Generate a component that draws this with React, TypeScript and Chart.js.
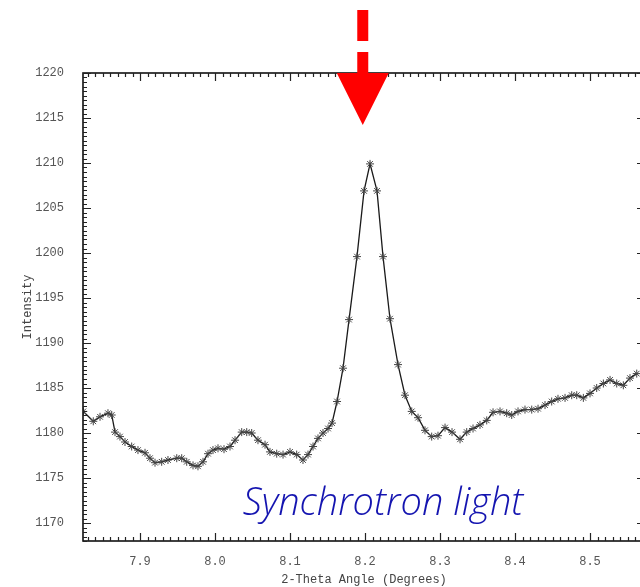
import React, { useEffect, useRef } from "react";
import { Chart, registerables } from "chart.js";

Chart.register(...registerables);

// 2-Theta angle (degrees) of each measured point
const TWO_THETA = [
  7.8244, 7.8377, 7.8467, 7.8573, 7.8623, 7.8667, 7.8733, 7.88, 7.8889, 7.8973,
  7.9067, 7.9133, 7.92, 7.9289, 7.9373, 7.949, 7.9556, 7.9623, 7.9707, 7.9773,
  7.984, 7.9907, 7.9973, 8.004, 8.012, 8.02, 8.0267, 8.0356, 8.0423, 8.0489,
  8.0573, 8.0667, 8.0733, 8.0823, 8.0907, 8.1, 8.1089, 8.1173, 8.124, 8.1307,
  8.1373, 8.144, 8.1507, 8.156, 8.1627, 8.1707, 8.1787, 8.1893, 8.1987, 8.2067,
  8.216, 8.224, 8.2333, 8.244, 8.2533, 8.2623, 8.2707, 8.28, 8.2889, 8.2973,
  8.3067, 8.316, 8.3267, 8.3356, 8.344, 8.3533, 8.3623, 8.3707, 8.38, 8.3889,
  8.3956, 8.404, 8.4133, 8.4223, 8.4307, 8.44, 8.4489, 8.4573, 8.4667, 8.4756,
  8.4823, 8.4911, 8.5, 8.5089, 8.5178, 8.5267, 8.5356, 8.5444, 8.5533, 8.5623,
];

// Measured intensity
const INTENSITY = [
  1182.4, 1181.3, 1181.8, 1182.2, 1182.0, 1180.1, 1179.6, 1179.0, 1178.5, 1178.1,
  1177.8, 1177.2, 1176.7, 1176.8, 1177.0, 1177.2, 1177.2, 1176.8, 1176.4, 1176.3,
  1176.8, 1177.7, 1178.1, 1178.3, 1178.2, 1178.5, 1179.2, 1180.1, 1180.1, 1180.0,
  1179.2, 1178.7, 1177.9, 1177.7, 1177.6, 1177.9, 1177.6, 1177.0, 1177.6, 1178.5,
  1179.4, 1180.0, 1180.5, 1181.1, 1183.5, 1187.2, 1192.6, 1199.6, 1206.9, 1209.9,
  1206.9, 1199.6, 1192.7, 1187.6, 1184.2, 1182.4, 1181.7, 1180.3, 1179.6, 1179.7,
  1180.6, 1180.1, 1179.3, 1180.1, 1180.5, 1180.9, 1181.4, 1182.3, 1182.4, 1182.2,
  1182.0, 1182.4, 1182.6, 1182.6, 1182.7, 1183.1, 1183.5, 1183.8, 1183.9, 1184.2,
  1184.2, 1183.9, 1184.4, 1185.0, 1185.5, 1185.9, 1185.5, 1185.3, 1186.1, 1186.6,
];

const X_TICKS = [7.9, 8.0, 8.1, 8.2, 8.3, 8.4, 8.5];
const Y_TICKS = [1170, 1175, 1180, 1185, 1190, 1195, 1200, 1205, 1210, 1215, 1220];

const X_MIN = 7.824;
const X_MAX = 8.5733;
const Y_MIN = 1168;
const Y_MAX = 1220;

const X_TITLE = "2-Theta Angle (Degrees)";
const Y_TITLE = "Intensity";

const PEAK_MARK = 8.197; // position of the red arrow
const NOTE_TEXT = "Synchrotron light";
const NOTE_X = 8.037;
const NOTE_Y = 1170.9;

const TICK_FONT = { family: "'Liberation Mono', 'DejaVu Sans Mono', monospace", size: 12 };

const framePlugin = {
  id: "frameAndMarks",
  afterDraw(chart: any) {
    const { ctx, chartArea: a, scales } = chart;
    const xs = scales.x;
    const ys = scales.y;
    ctx.save();
    // frame
    ctx.strokeStyle = "#111";
    ctx.lineWidth = 1.6;
    ctx.strokeRect(a.left, a.top, a.right - a.left, a.bottom - a.top);

    // inward ticks
    ctx.lineWidth = 1.2;
    ctx.strokeStyle = "#222";
    ctx.beginPath();
    for (let i = Math.ceil(X_MIN * 100); i <= Math.floor(X_MAX * 100); i++) {
      const v = i / 100;
      const major = i % 10 === 0;
      const len = major ? 8 : 4;
      const px = Math.round(xs.getPixelForValue(v)) + 0.5;
      ctx.moveTo(px, a.bottom);
      ctx.lineTo(px, a.bottom - len);
      ctx.moveTo(px, a.top);
      ctx.lineTo(px, a.top + len);
    }
    for (let i = Y_MIN * 2; i <= Y_MAX * 2; i++) {
      const v = i / 2;
      const major = i % 10 === 0;
      const len = major ? 8 : 4;
      const py = Math.round(ys.getPixelForValue(v)) + 0.5;
      ctx.moveTo(a.left, py);
      ctx.lineTo(a.left + len, py);
      ctx.moveTo(a.right, py);
      ctx.lineTo(a.right - len, py);
    }
    ctx.stroke();

    // annotation text
    ctx.fillStyle = "#1414b0";
    ctx.font = "italic 300 38px 'Open Sans', Lato, 'DejaVu Sans', sans-serif";
    ctx.textBaseline = "alphabetic";
    ctx.textAlign = "left";
    ctx.fillText(NOTE_TEXT, xs.getPixelForValue(NOTE_X), ys.getPixelForValue(NOTE_Y));

    // red arrow
    const cx = xs.getPixelForValue(PEAK_MARK);
    const t = a.top;
    ctx.fillStyle = "#ff0000";
    ctx.fillRect(cx - 5.5, t - 63, 11, 31);
    ctx.fillRect(cx - 5.5, t - 21, 11, 22);
    ctx.beginPath();
    ctx.moveTo(cx - 26, t);
    ctx.lineTo(cx + 26, t);
    ctx.lineTo(cx, t + 52);
    ctx.closePath();
    ctx.fill();
    ctx.restore();
  },
};

export default function App() {
  const ref = useRef<HTMLCanvasElement | null>(null);

  useEffect(() => {
    if (!ref.current) return;
    const points = TWO_THETA.map((x, i) => ({ x, y: INTENSITY[i] }));
    const chart = new Chart(ref.current, {
      type: "line",
      data: {
        datasets: [
          {
            data: points,
            borderColor: "#1a1a1a",
            borderWidth: 1.3,
            pointStyle: "star",
            pointRadius: 4,
            pointBorderColor: "#444",
            pointBorderWidth: 1,
            pointBackgroundColor: "#444",
            tension: 0,
          },
        ],
      },
      options: {
        responsive: false,
        animation: false,
        devicePixelRatio: 1,
        layout: { padding: { top: 73, right: 75, left: 0, bottom: 0 } },
        plugins: { legend: { display: false }, tooltip: { enabled: false } },
        scales: {
          x: {
            type: "linear",
            min: X_MIN,
            max: X_MAX,
            afterBuildTicks: (s: any) => {
              s.ticks = X_TICKS.map((v) => ({ value: v }));
            },
            afterFit: (s: any) => {
              s.height = 46;
            },
            grid: { display: false, drawTicks: false },
            border: { display: false },
            ticks: {
              padding: 14,
              color: "#555",
              font: TICK_FONT,
              maxRotation: 0,
              autoSkip: false,
              callback: (v: any) => Number(v).toFixed(1),
            },
            title: {
              display: true,
              text: X_TITLE,
              color: "#444",
              font: TICK_FONT,
              padding: { top: 0, bottom: 0 },
            },
          },
          y: {
            type: "linear",
            min: Y_MIN,
            max: Y_MAX,
            afterBuildTicks: (s: any) => {
              s.ticks = Y_TICKS.map((v) => ({ value: v }));
            },
            afterFit: (s: any) => {
              s.width = 83;
            },
            grid: { display: false, drawTicks: false },
            border: { display: false },
            ticks: {
              padding: 19,
              color: "#555",
              font: TICK_FONT,
              autoSkip: false,
              callback: (v: any) => String(v),
            },
            title: {
              display: true,
              text: Y_TITLE,
              color: "#444",
              font: TICK_FONT,
              padding: { top: 21, bottom: 0 },
            },
          },
        },
      },
      plugins: [framePlugin],
    });
    return () => chart.destroy();
  }, []);

  return (
    <div
      style={{
        position: "absolute",
        left: 0,
        top: 0,
        width: 640,
        height: 587,
        overflow: "hidden",
        background: "#fff",
      }}
    >
      <canvas ref={ref} width={720} height={587} style={{ display: "block" }} />
    </div>
  );
}
